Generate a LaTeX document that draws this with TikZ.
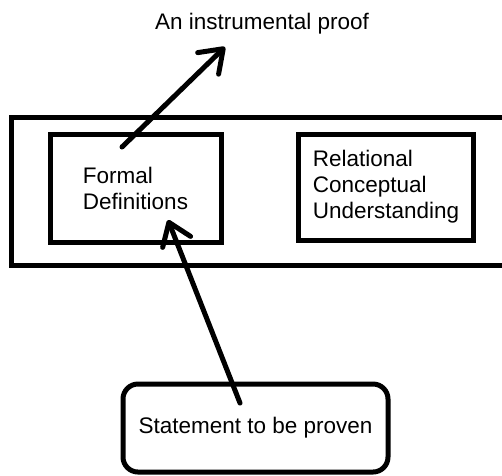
\documentclass[tikz,border=0pt]{standalone}
\usepackage{fontspec}
\setmainfont{Liberation Sans}
\usetikzlibrary{arrows.meta}

\begin{document}
\begin{tikzpicture}[x=1pt,y=-1pt,
    box/.style={draw, line width=5pt, inner sep=0pt, align=left, font=\fontsize{22.5}{26}\selectfont},
    barb/.style={line width=5pt, line cap=round, -{Straight Barb[length=21pt,width=30pt,round]}}]
    \useasboundingbox (0,0) rectangle (502,475);
    \clip (0,0) rectangle (502,475);
    % Title
    \node[font=\fontsize{22.5}{26}\selectfont] (proof) at (262,24) {An instrumental proof};
    % Outer frame
    \draw[line width=5pt] (515,117) -- (11,117) -- (11,265) -- (515,265);
    % Boxes
    \node[box, minimum width=171pt, minimum height=108pt] (formal) at (135.5,188) {Formal\\Definitions};
    \node[box, minimum width=175pt, minimum height=106pt] (relational) at (386,187) {Relational\\Conceptual\\Understanding};
    \node[box, rounded corners=15pt, minimum width=265pt, minimum height=88pt, align=center] (statement) at (255.5,428) {Statement to be proven};
    % Arrows
    \coordinate (formalTail) at (122,147);
    \coordinate (proofTip) at (225,47);
    \draw[barb] (formalTail) -- (proofTip);
    \coordinate (statementTail) at (240,403);
    \coordinate (formalTip) at (168,220);
    \draw[barb] (statementTail) -- (formalTip);
\end{tikzpicture}
\end{document}
